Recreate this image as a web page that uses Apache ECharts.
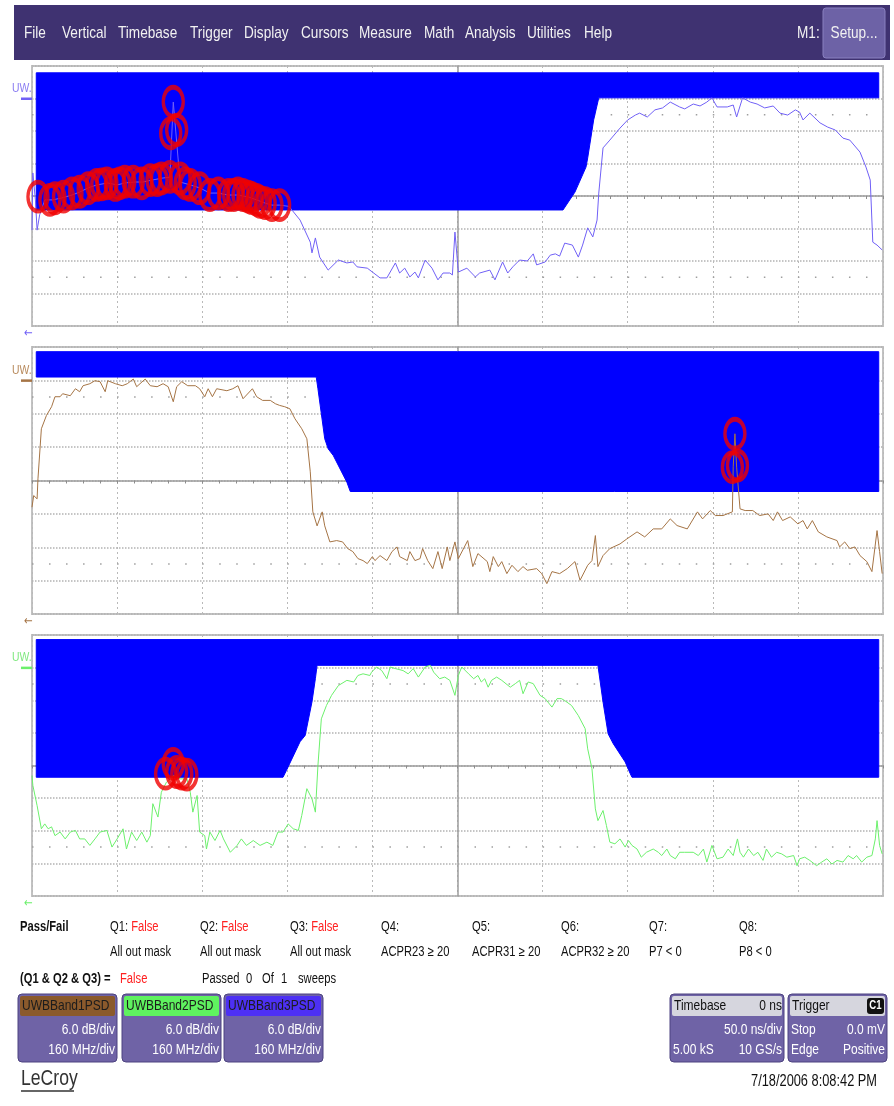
<!DOCTYPE html>
<html>
<head>
<meta charset="utf-8">
<title>UWB PSD mask test</title>
<script src="https://cdn.jsdelivr.net/npm/echarts@6/dist/echarts.min.js"></script>
<style>
  html, body { margin: 0; padding: 0; background: #fff; }
  #scope { width: 894px; height: 1106px; }
</style>
</head>
<body>
<div id="scope"></div>
<script>
// all values in graticule divisions: x 0..10 (160 MHz/div), y -4..4 (6 dB/div)

// top trace - UWBBand3PSD
var band3Trace = [
  [0.00,-1.05],[0.01,0.71],[0.04,-0.12],[0.06,-1.05],[0.09,-0.58],[0.15,-0.12],[0.24,-0.12],[0.35,-0.06],
  [0.47,0.03],[0.56,0.12],[0.66,0.25],[0.76,0.34],[0.89,0.40],[1.00,0.34],[1.09,0.40],[1.21,0.43],
  [1.30,0.43],[1.41,0.49],[1.53,0.55],[1.62,0.58],[1.66,2.89],[1.69,1.97],[1.74,0.43],[1.86,0.34],
  [1.97,0.25],[2.09,0.09],[2.19,0.09],[2.30,0.03],[2.42,0.03],[2.54,-0.03],[2.64,-0.12],[2.74,-0.22],
  [2.82,-0.28],[2.91,-0.28],[3.02,-0.32],[3.15,-0.74],[3.27,-1.42],[3.29,-1.75],[3.33,-1.29],[3.38,-1.88],
  [3.48,-2.28],[3.60,-1.97],[3.70,-2.06],[3.77,-2.03],[3.82,-2.18],[3.94,-2.22],[4.00,-2.34],[4.09,-2.52],
  [4.17,-2.52],[4.27,-2.06],[4.32,-2.37],[4.38,-2.22],[4.44,-2.49],[4.50,-2.34],[4.54,-2.52],[4.62,-1.97],
  [4.70,-2.22],[4.77,-2.58],[4.83,-2.37],[4.91,-2.37],[4.94,-2.43],[4.97,-1.11],[5.01,-2.34],[5.11,-2.22],
  [5.21,-2.49],[5.26,-2.37],[5.38,-2.28],[5.44,-2.58],[5.53,-2.03],[5.59,-2.37],[5.65,-2.18],[5.73,-1.97],
  [5.82,-2.00],[5.89,-1.78],[5.93,-2.12],[6.03,-2.03],[6.09,-1.82],[6.15,-1.78],[6.20,-1.85],[6.26,-1.45],
  [6.35,-1.51],[6.42,-1.88],[6.47,-1.51],[6.53,-0.98],[6.59,-1.26],[6.64,-0.74],[6.66,0.09],[6.71,1.48],
  [6.79,1.72],[6.91,2.09],[7.00,2.34],[7.09,2.49],[7.14,2.55],[7.23,2.43],[7.32,2.65],[7.41,2.71],
  [7.50,2.89],[7.61,2.74],[7.67,2.68],[7.77,2.83],[7.85,2.77],[7.93,2.89],[7.99,3.02],[8.05,2.74],
  [8.17,2.74],[8.24,2.80],[8.28,2.43],[8.35,3.02],[8.44,2.89],[8.52,2.83],[8.61,2.71],[8.71,2.77],
  [8.79,2.55],[8.88,2.49],[8.97,2.65],[9.02,2.58],[9.06,2.34],[9.14,2.55],[9.26,2.25],[9.35,2.12],
  [9.44,2.03],[9.53,1.78],[9.61,1.72],[9.73,1.35],[9.80,0.89],[9.85,0.49],[9.88,-1.42],[9.93,-1.51],
  [9.99,-1.66]
];
var band3MaskLow = [[0.05,-0.43],[6.24,-0.43],[6.38,0.12],[6.51,0.89],[6.53,1.17],[6.60,2.34],[6.66,3.02],[9.95,3.02]];
var band3MaskTop = 3.79;
var band3Fails = [
  [0.07,-0.02],[0.21,-0.12],[0.27,-0.07],[0.37,-0.02],[0.47,0.08],[0.56,0.13],[0.66,0.24],[0.76,0.34],
  [0.82,0.36],[0.88,0.39],[0.98,0.34],[1.03,0.39],[1.09,0.44],[1.19,0.44],[1.29,0.39],[1.39,0.49],
  [1.47,0.49],[1.52,0.54],[1.62,0.59],[1.66,2.90],[1.63,1.93],[1.70,2.03],[1.74,0.54],[1.80,0.39],
  [1.86,0.34],[1.97,0.24],[2.09,0.03],[2.19,0.08],[2.31,0.03],[2.37,0.03],[2.42,0.08],[2.48,0.03],
  [2.54,-0.02],[2.58,-0.06],[2.64,-0.12],[2.68,-0.18],[2.74,-0.22],[2.82,-0.28],[2.91,-0.28]
];

// middle trace - UWBBand1PSD
var band1Trace = [
  [0.00,-0.80],[0.02,-0.45],[0.06,-0.55],[0.07,0.05],[0.11,1.55],[0.17,1.95],[0.23,2.21],[0.27,2.51],
  [0.33,2.51],[0.36,2.60],[0.45,2.54],[0.51,2.75],[0.56,2.66],[0.60,2.84],[0.68,2.90],[0.74,2.99],
  [0.80,2.96],[0.86,2.66],[0.89,2.99],[0.98,2.90],[1.06,2.84],[1.12,2.90],[1.19,3.04],[1.23,2.81],
  [1.33,3.04],[1.39,2.84],[1.47,2.81],[1.54,2.90],[1.60,2.81],[1.66,2.36],[1.70,2.81],[1.76,2.96],
  [1.83,2.84],[1.92,2.84],[1.97,2.75],[2.03,2.51],[2.07,2.75],[2.12,2.51],[2.17,2.75],[2.29,2.69],
  [2.36,2.75],[2.42,2.84],[2.48,2.45],[2.59,2.75],[2.64,2.51],[2.71,2.40],[2.80,2.40],[2.86,2.30],
  [2.91,2.25],[2.97,2.21],[3.03,2.15],[3.09,1.85],[3.17,1.55],[3.23,1.25],[3.27,0.26],[3.30,-0.94],
  [3.35,-1.36],[3.41,-0.94],[3.44,-1.36],[3.50,-1.84],[3.58,-1.80],[3.65,-1.84],[3.71,-2.04],[3.77,-2.13],
  [3.83,-2.34],[3.89,-2.40],[3.94,-2.49],[4.00,-2.28],[4.03,-2.40],[4.09,-2.25],[4.17,-2.40],[4.23,-2.13],
  [4.29,-1.99],[4.32,-2.28],[4.41,-2.40],[4.44,-2.13],[4.50,-2.40],[4.56,-2.34],[4.59,-2.04],[4.65,-2.40],
  [4.71,-2.64],[4.77,-2.13],[4.82,-2.64],[4.88,-1.99],[4.91,-2.40],[4.97,-1.84],[5.01,-2.34],[5.12,-1.80],
  [5.18,-2.58],[5.24,-2.19],[5.35,-2.43],[5.38,-2.73],[5.42,-2.28],[5.48,-2.58],[5.52,-2.43],[5.58,-2.79],
  [5.64,-2.54],[5.71,-2.73],[5.77,-2.58],[5.82,-2.69],[5.93,-2.64],[5.99,-2.79],[6.05,-3.09],[6.11,-2.73],
  [6.20,-2.79],[6.29,-2.64],[6.38,-2.43],[6.44,-2.99],[6.53,-2.54],[6.58,-2.40],[6.62,-1.65],[6.65,-2.58],
  [6.71,-2.25],[6.79,-2.04],[6.91,-1.90],[6.99,-1.75],[7.11,-1.54],[7.20,-1.69],[7.30,-1.45],[7.40,-1.45],
  [7.50,-1.15],[7.58,-1.35],[7.70,-1.45],[7.82,-0.94],[7.88,-1.15],[7.97,-0.90],[8.03,-1.05],[8.12,-1.05],
  [8.23,-0.94],[8.24,0.41],[8.26,1.40],[8.28,0.40],[8.30,0.45],[8.32,-0.85],[8.38,-0.90],[8.47,-0.90],
  [8.55,-1.05],[8.65,-1.00],[8.71,-1.20],[8.76,-0.94],[8.82,-1.20],[8.91,-1.09],[9.00,-1.30],[9.06,-1.20],
  [9.11,-1.45],[9.17,-1.20],[9.24,-1.54],[9.34,-1.69],[9.46,-1.80],[9.49,-1.99],[9.55,-1.84],[9.61,-2.04],
  [9.67,-1.99],[9.73,-2.25],[9.81,-2.43],[9.87,-2.73],[9.93,-1.50],[9.96,-2.13],[9.99,-2.79]
];
var band1MaskLow = [[0.05,3.10],[3.34,3.10],[3.36,2.75],[3.44,1.25],[3.48,0.95],[3.54,0.75],[3.70,-0.05],[3.74,-0.33],[9.95,-0.33]];
var band1MaskTop = 3.86;
var band1Fails = [[8.26,1.40],[8.23,0.40],[8.29,0.45]];

// bottom trace - UWBBand2PSD
var band2Trace = [
  [0.00,-0.31],[0.01,-0.61],[0.06,-1.23],[0.11,-1.94],[0.15,-1.79],[0.19,-1.94],[0.23,-1.88],[0.27,-2.15],
  [0.33,-2.04],[0.39,-2.25],[0.45,-2.04],[0.51,-1.99],[0.56,-2.25],[0.62,-2.25],[0.68,-2.45],[0.74,-2.25],
  [0.80,-2.04],[0.88,-1.99],[0.94,-2.50],[1.00,-2.25],[1.07,-1.94],[1.11,-2.56],[1.17,-2.04],[1.23,-2.30],
  [1.29,-2.04],[1.35,-2.35],[1.39,-2.15],[1.42,-1.17],[1.48,-1.58],[1.52,-0.82],[1.58,-0.51],[1.66,-0.31],
  [1.74,-0.41],[1.82,-0.41],[1.86,-0.82],[1.89,-1.43],[1.94,-0.92],[1.97,-2.04],[2.03,-2.15],[2.05,-2.56],
  [2.09,-2.04],[2.15,-2.30],[2.21,-1.99],[2.25,-2.25],[2.33,-2.66],[2.41,-2.45],[2.46,-2.25],[2.52,-2.45],
  [2.60,-2.30],[2.68,-2.45],[2.76,-2.35],[2.83,-2.45],[2.89,-2.04],[2.95,-2.04],[3.01,-1.79],[3.07,-1.94],
  [3.13,-1.99],[3.17,-1.53],[3.23,-0.71],[3.29,-1.02],[3.33,-1.43],[3.36,0.00],[3.40,1.43],[3.46,1.84],
  [3.52,2.15],[3.60,2.45],[3.70,2.61],[3.78,2.56],[3.83,2.76],[3.89,2.81],[3.97,2.76],[3.99,2.86],
  [4.05,3.02],[4.11,2.91],[4.17,2.66],[4.21,3.02],[4.27,2.97],[4.36,2.91],[4.42,2.81],[4.48,2.97],
  [4.54,2.71],[4.62,3.02],[4.68,3.07],[4.72,2.86],[4.79,2.66],[4.85,2.71],[4.91,2.61],[4.97,2.15],
  [5.01,2.76],[5.05,3.02],[5.13,2.81],[5.19,2.66],[5.24,2.76],[5.28,2.56],[5.32,2.66],[5.36,2.40],
  [5.40,2.61],[5.46,2.71],[5.52,2.61],[5.62,2.40],[5.68,2.51],[5.73,2.61],[5.77,2.20],[5.83,2.56],
  [5.89,2.51],[5.97,2.15],[6.03,2.05],[6.11,1.79],[6.17,2.05],[6.22,2.05],[6.26,1.99],[6.34,1.84],
  [6.42,1.53],[6.50,1.13],[6.53,0.51],[6.58,-0.10],[6.62,-1.33],[6.65,-1.69],[6.71,-1.38],[6.75,-1.84],
  [6.79,-2.35],[6.85,-2.40],[6.91,-2.25],[6.97,-2.50],[7.01,-2.30],[7.05,-2.45],[7.11,-2.56],[7.16,-2.81],
  [7.22,-2.66],[7.30,-2.56],[7.36,-2.66],[7.40,-2.76],[7.46,-2.56],[7.50,-2.76],[7.56,-2.86],[7.61,-2.66],
  [7.67,-2.66],[7.77,-2.66],[7.83,-2.76],[7.89,-2.56],[7.93,-2.96],[7.99,-2.45],[8.05,-2.86],[8.12,-2.81],
  [8.18,-2.56],[8.24,-2.76],[8.29,-2.25],[8.32,-2.66],[8.36,-2.81],[8.42,-2.56],[8.48,-2.76],[8.53,-2.66],
  [8.59,-2.91],[8.63,-2.56],[8.69,-2.81],[8.75,-2.66],[8.81,-2.71],[8.87,-2.81],[8.95,-2.76],[8.99,-3.07],
  [9.02,-2.86],[9.08,-2.81],[9.14,-2.91],[9.22,-3.07],[9.28,-2.96],[9.34,-2.86],[9.40,-3.02],[9.46,-2.91],
  [9.53,-2.96],[9.59,-2.76],[9.65,-2.86],[9.69,-2.76],[9.75,-2.96],[9.81,-2.81],[9.87,-2.76],[9.91,-2.25],
  [9.93,-1.69],[9.96,-2.45],[9.99,-2.71]
];
var band2MaskLow = [
  [0.05,-0.36],[2.95,-0.36],[2.99,-0.15],[3.15,0.73],[3.21,0.92],[3.29,1.95],[3.33,2.66],[3.35,3.07],
  [6.65,3.07],[6.71,1.95],[6.77,0.97],[6.83,0.67],[6.97,0.11],[7.03,-0.25],[7.05,-0.36],[9.95,-0.36]
];
var band2MaskTop = 3.86;
var band2Fails = [[1.57,-0.25],[1.66,0.05],[1.70,-0.20],[1.76,-0.25],[1.82,-0.28]];

// no narrow face installed: squeeze Liberation Sans horizontally
var FONT = '"Liberation Sans", Arial, sans-serif';
var SQUEEZE = 0.8;

var panels = [
  { top: 66,  height: 260, color: '#7060f6', label: '#8a7cf2', trace: band3Trace, low: band3MaskLow, maskTop: band3MaskTop, fails: band3Fails },
  { top: 347, height: 267, color: '#a57445', label: '#b88a5c', trace: band1Trace, low: band1MaskLow, maskTop: band1MaskTop, fails: band1Fails },
  { top: 635, height: 261, color: '#6cf06c', label: '#7fe87f', trace: band2Trace, low: band2MaskLow, maskTop: band2MaskTop, fails: band2Fails }
];

var grids = [], xAxes = [], yAxes = [], series = [];

panels.forEach(function (p, i) {
  grids.push({
    left: 32, width: 851, top: p.top, height: p.height,
    show: true, backgroundColor: '#fff', borderColor: '#c2c2c2', borderWidth: 2
  });
  xAxes.push({
    gridIndex: i, type: 'value', min: 0, max: 10, interval: 1,
    axisLabel: { show: false },
    axisLine: { show: true, onZero: true, lineStyle: { color: '#9d9d9d', width: 1.5 } },
    axisTick: { show: true, length: 3, lineStyle: { color: '#8c8c8c' } },
    minorTick: { show: true, splitNumber: 5, length: 3, lineStyle: { color: '#8c8c8c' } },
    splitLine: { show: true, lineStyle: { color: '#b9b9b9', type: [2, 3] } }
  });
  // main amplitude axis (index 2*i)
  yAxes.push({
    gridIndex: i, type: 'value', min: -4, max: 4, interval: 1,
    axisLabel: { show: false }, axisLine: { show: false }, axisTick: { show: false },
    splitLine: { show: true, lineStyle: { color: '#b3b3b3', type: 'dotted', width: 1.5 } }
  });
  // centre vertical graticule line: a bare axis pushed into the middle of the grid
  yAxes.push({
    gridIndex: i, type: 'value', min: -4, max: 4, position: 'left', offset: -425.5,
    axisLabel: { show: false }, axisTick: { show: false }, splitLine: { show: false },
    axisLine: { show: true, onZero: false, lineStyle: { color: '#9d9d9d', width: 1.5 } }
  });

  // plotted layer sits on its own canvas layer above the graticule
  // dotted rows at +-2.5 div, then the mask polygon on top of them
  series.push({
    type: 'custom', xAxisIndex: i, yAxisIndex: 2 * i, zlevel: 1, z: 2, silent: true,
    data: [[5, 0]],
    renderItem: function (params, api) {
      var kids = [];
      [2.5, -2.5].forEach(function (v) {
        var l = api.coord([0, v]), r = api.coord([10, v]);
        kids.push({ type: 'line', shape: { x1: l[0], y1: l[1], x2: r[0], y2: r[1] },
          style: { stroke: '#9e9e9e', lineWidth: 1.5, lineDash: [1.5, 15.52] } });
      });
      var low = p.low;
      var pts = [api.coord([low[0][0], p.maskTop]), api.coord([low[low.length - 1][0], p.maskTop])];
      for (var k = low.length - 1; k >= 0; k--) pts.push(api.coord(low[k]));
      kids.push({ type: 'polygon', z2: 10, shape: { points: pts }, style: { fill: '#0000ff', stroke: '#0000ff', lineWidth: 1 } });
      return { type: 'group', children: kids };
    }
  });

  series.push({
    type: 'line', xAxisIndex: i, yAxisIndex: 2 * i, zlevel: 1, z: 3, silent: true,
    data: p.trace, symbol: 'none', showSymbol: false,
    lineStyle: { color: p.color, width: 1 }
  });

  series.push({
    type: 'scatter', xAxisIndex: i, yAxisIndex: 2 * i, zlevel: 1, z: 4, silent: true,
    data: p.fails, symbol: 'circle', symbolSize: [20, 29],
    itemStyle: { color: 'rgba(0,0,0,0)', borderColor: '#f00000', borderWidth: 4 }
  });
});

function txt(x, y, s, o) {
  return {
    type: 'text', x: x, y: y, silent: true, z: 30, scaleX: SQUEEZE,
    style: Object.assign({ text: s, fill: '#111', fontSize: 14, fontFamily: FONT, verticalAlign: 'middle', align: 'left' }, o || {})
  };
}
function box(x, y, w, h, fill, o) {
  return {
    type: 'rect', silent: true, z: 29,
    shape: { x: x, y: y, width: w, height: h, r: (o && o.r) || 0 },
    style: { fill: fill, stroke: (o && o.stroke) || null, lineWidth: (o && o.lw) || 0 }
  };
}

var g = [];
// menu bar
g.push(box(14, 5, 876, 55, '#3f3271'));
[['File', 24], ['Vertical', 62], ['Timebase', 118], ['Trigger', 190], ['Display', 244], ['Cursors', 301],
 ['Measure', 359], ['Math', 424], ['Analysis', 465], ['Utilities', 527], ['Help', 584]].forEach(function (m) {
  g.push(txt(m[1], 33, m[0], { fill: '#f2f2f2', fontSize: 17 }));
});
g.push(txt(797, 33, 'M1:', { fill: '#f2f2f2', fontSize: 17 }));
g.push(box(823, 8, 62, 50, '#6d62a6', { r: 3, stroke: '#8a80c0', lw: 1 }));
g.push(txt(854, 33, 'Setup...', { fill: '#f2f2f2', fontSize: 17, align: 'center' }));

// channel labels, offset markers and arrows
panels.forEach(function (p) {
  var zeroY = p.top + p.height / 2;
  var div = p.height / 8;
  g.push(txt(12, zeroY - 3.3 * div, 'UW.', { fill: p.label, fontSize: 13 }));
  g.push(box(21, zeroY - 3 * div - 1, 11, 2.5, p.color));
  g.push(txt(24, p.top + p.height + 8, '\u2190', { fill: p.color, fontSize: 13, fontFamily: 'DejaVu Sans' }));
});

// pass / fail block
g.push(txt(20, 927, 'Pass/Fail', { fontWeight: 'bold' }));
var qNames = ['Q1:', 'Q2:', 'Q3:', 'Q4:', 'Q5:', 'Q6:', 'Q7:', 'Q8:'];
var qResults = ['False', 'False', 'False', '', '', '', '', ''];
var qTests = ['All out mask', 'All out mask', 'All out mask', 'ACPR23 \u2265 20', 'ACPR31 \u2265 20', 'ACPR32 \u2265 20', 'P7 < 0', 'P8 < 0'];
var qX = [110, 200, 290, 381, 472, 561, 649, 739];
qNames.forEach(function (q, k) {
  g.push({
    type: 'text', x: qX[k], y: 927, silent: true, z: 30, scaleX: SQUEEZE,
    style: {
      text: '{a|' + q + ' }' + (qResults[k] ? '{b|' + qResults[k] + '}' : ''),
      verticalAlign: 'middle',
      rich: {
        a: { fill: '#111', fontSize: 14, fontFamily: FONT },
        b: { fill: '#ff2020', fontSize: 14, fontFamily: FONT }
      }
    }
  });
  g.push(txt(qX[k], 952, qTests[k]));
});
g.push(txt(20, 979, '(Q1 & Q2 & Q3) =', { fontWeight: 'bold' }));
g.push(txt(120, 979, 'False', { fill: '#ff2020' }));
g.push(txt(202, 979, 'Passed'));
g.push(txt(246, 979, '0'));
g.push(txt(262, 979, 'Of'));
g.push(txt(281, 979, '1'));
g.push(txt(298, 979, 'sweeps'));

// trace descriptor boxes
var chanNames = ['UWBBand1PSD', 'UWBBand2PSD', 'UWBBand3PSD'];
var chanColors = ['#8b5a2c', '#5ff25f', '#4d30f4'];
var chanX = [18, 122, 224];
var chanScale = ['6.0 dB/div', '6.0 dB/div', '6.0 dB/div'];
var chanSpan = ['160 MHz/div', '160 MHz/div', '160 MHz/div'];
chanNames.forEach(function (n, k) {
  var x = chanX[k];
  g.push(box(x, 994, 99, 68, '#6f63a6', { r: 4, stroke: '#4d4380', lw: 1 }));
  g.push(box(x + 2, 996, 95, 20, chanColors[k], { r: 2 }));
  g.push(txt(x + 4, 1006, n, { fill: '#1c1c1c', fontSize: 15 }));
  g.push(txt(x + 97, 1030, chanScale[k], { fill: '#fff', fontSize: 15, align: 'right' }));
  g.push(txt(x + 97, 1050, chanSpan[k], { fill: '#fff', fontSize: 15, align: 'right' }));
});

// timebase and trigger boxes
g.push(box(670, 994, 114, 68, '#6f63a6', { r: 4, stroke: '#4d4380', lw: 1 }));
g.push(box(672, 996, 110, 20, '#d6d6de', { r: 2 }));
g.push(txt(674, 1006, 'Timebase', { fontSize: 15 }));
g.push(txt(782, 1006, '0 ns', { fontSize: 15, align: 'right' }));
g.push(txt(782, 1030, '50.0 ns/div', { fill: '#fff', fontSize: 15, align: 'right' }));
g.push(txt(673, 1050, '5.00 kS', { fill: '#fff', fontSize: 15 }));
g.push(txt(782, 1050, '10 GS/s', { fill: '#fff', fontSize: 15, align: 'right' }));

g.push(box(788, 994, 99, 68, '#6f63a6', { r: 4, stroke: '#4d4380', lw: 1 }));
g.push(box(790, 996, 95, 20, '#d6d6de', { r: 2 }));
g.push(txt(792, 1006, 'Trigger', { fontSize: 15 }));
g.push(box(867, 998, 17, 16, '#111', { r: 3 }));
g.push(txt(875.5, 1006, 'C1', { fill: '#fff', fontSize: 12, fontWeight: 'bold', align: 'center' }));
g.push(txt(791, 1030, 'Stop', { fill: '#fff', fontSize: 15 }));
g.push(txt(885, 1030, '0.0 mV', { fill: '#fff', fontSize: 15, align: 'right' }));
g.push(txt(791, 1050, 'Edge', { fill: '#fff', fontSize: 15 }));
g.push(txt(885, 1050, 'Positive', { fill: '#fff', fontSize: 15, align: 'right' }));

// footer
g.push(txt(877, 1082, '7/18/2006 8:08:42 PM', { fill: '#111', fontSize: 16, align: 'right' }));
g.push(txt(21, 1079, 'LeCroy', { fill: '#333', fontSize: 22 }));
g.push({ type: 'line', silent: true, z: 30, shape: { x1: 21, y1: 1091, x2: 74, y2: 1091 }, style: { stroke: '#333', lineWidth: 1.5 } });

var chart = echarts.init(document.getElementById('scope'));
chart.setOption({
  animation: false,
  backgroundColor: '#fff',
  grid: grids,
  xAxis: xAxes,
  yAxis: yAxes,
  series: series,
  graphic: g
});
</script>
</body>
</html>
